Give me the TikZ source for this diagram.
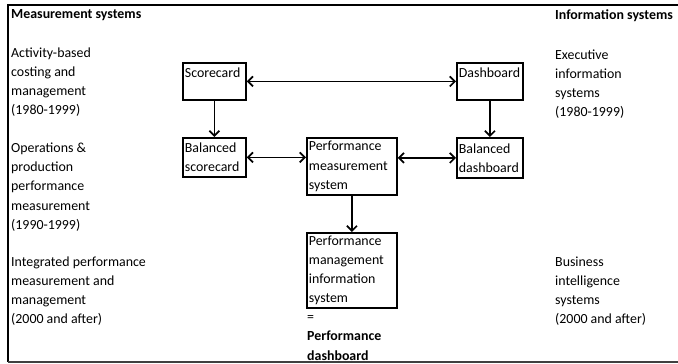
\documentclass[tikz,border=0pt]{standalone}
\usepackage{fontspec}
\setmainfont{Carlito}
\usetikzlibrary{arrows.meta}
\newcommand{\tamano}{\fontsize{13.9}{19.2}\selectfont}

\begin{document}
\begin{tikzpicture}[x=1pt, y=-1pt, >={Straight Barb[length=5pt,width=10pt]},
        caja/.style={draw, line width=1.8pt, anchor=north west, align=left, inner xsep=2pt, inner ysep=0pt, font=\tamano},
        texto/.style={anchor=west, align=left, inner sep=0pt, font=\tamano},
        flecha/.style={line width=1.7pt}]
        \useasboundingbox (0,0) rectangle (678,364);

        % Marco de la tabla
        \draw[line width=2pt] (678,5) -- (8,5) -- (8,362);
        \draw[line width=1.3pt, black!75] (8,362) -- (678,362);

        % Encabezados de las columnas
        \node[texto, font=\tamano\bfseries] (medicion) at (11,15.5) {Measurement systems};
        \node[texto, font=\tamano\bfseries] (informacion) at (555,15.5) {Information systems};

        % Columna izquierda (sistemas de medición)
        \node[texto] (abc) at (11,82.3) {Activity-based\\costing and\\management\\(1980-1999)};
        \node[texto] (operaciones) at (11,187) {Operations \&\\production\\performance\\measurement\\(1990-1999)};
        \node[texto] (integrada) at (11,291) {Integrated performance\\measurement and\\management\\(2000 and after)};

        % Columna derecha (sistemas de información)
        \node[texto] (eis) at (555,84) {Executive\\information\\systems\\(1980-1999)};
        \node[texto] (bi) at (555,291) {Business\\intelligence\\systems\\(2000 and after)};

        % Cajas del diagrama
        \node[caja, text width=59pt, text height=15pt, text depth=22pt] (score) at (182,62) {Scorecard};
        \node[caja, text width=62pt, text height=15pt, text depth=22pt] (dash) at (456,62) {Dashboard};
        \node[caja, text width=59pt, minimum height=39pt] (bsc) at (182,137) {Balanced\\scorecard};
        \node[caja, text width=86pt, minimum height=57pt] (pms) at (306,137) {Performance\\measurement\\system};
        \node[caja, text width=62pt, minimum height=40pt] (bdash) at (456,137) {Balanced\\dashboard};
        \node[caja, text width=86pt, minimum height=75pt] (pmis) at (306,232) {Performance\\management\\information\\system};

        % Equivalencia bajo la caja inferior
        \node[texto] (igual) at (307,338) {=\\\textbf{Performance}\\\textbf{dashboard}};

        % Flechas entre las cajas
        \draw[flecha, <->] (score) -- (dash);
        \draw[flecha, ->] (score) -- (bsc);
        \draw[flecha, ->] (dash) -- (bdash);
        \draw[flecha, <->] (bsc.east) -- (bsc.east -| pms.west);
        \draw[flecha, <->] (pms.east |- bdash.west) -- (bdash.west);
        \draw[flecha, ->] (pms) -- (pmis);
    \end{tikzpicture}
\end{document}
